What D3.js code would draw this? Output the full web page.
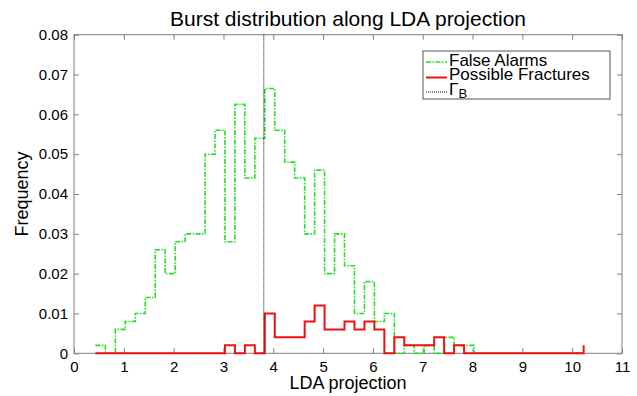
<!DOCTYPE html>
<html>
<head>
<meta charset="utf-8">
<script src="https://cdn.jsdelivr.net/npm/d3@7"></script>
<style>
  html, body { margin: 0; padding: 0; background: #fff; }
  svg { display: block; }
  text { font-family: "Liberation Sans", Arial, Helvetica, sans-serif; fill: #000; }
</style>
</head>
<body>
<svg id="chart" width="637" height="396"></svg>
<script>
// ---- data ----
const binEdges = [0.43, 0.63, 0.83, 1.03, 1.23, 1.43, 1.63, 1.83, 2.03, 2.23,
  2.43, 2.63, 2.83, 3.03, 3.23, 3.43, 3.63, 3.83, 4.03, 4.23,
  4.43, 4.63, 4.83, 5.03, 5.23, 5.43, 5.63, 5.83, 6.03, 6.23,
  6.43, 6.63, 6.83, 7.03, 7.23, 7.43, 7.63, 7.83, 8.03, 8.23,
  8.43, 8.63, 8.83, 9.03, 9.23, 9.43, 9.63, 9.83, 10.03, 10.23];
const falseAlarms = [0.002, 0, 0.006, 0.008, 0.010, 0.014, 0.026, 0.020, 0.028, 0.030,
  0.030, 0.050, 0.056, 0.028, 0.0625, 0.044, 0.054, 0.0665, 0.056, 0.048,
  0.044, 0.030, 0.046, 0.020, 0.030, 0.022, 0.010, 0.018, 0.008, 0.010,
  0, 0.002, 0, 0.002, 0, 0.004, 0.002, 0.002, 0, 0,
  0, 0, 0, 0, 0, 0, 0, 0, 0, 0];
const possibleFractures = [0, 0, 0, 0, 0, 0, 0, 0, 0, 0,
  0, 0, 0, 0.002, 0, 0.002, 0, 0.010, 0.004, 0.004,
  0.004, 0.008, 0.012, 0.006, 0.006, 0.008, 0.006, 0.008, 0.006, 0,
  0.004, 0.002, 0.002, 0.002, 0.004, 0, 0.002, 0, 0, 0,
  0, 0, 0, 0, 0, 0, 0, 0, 0, 0.002];
const thresholdB = 3.81;
const xTicks = [0, 1, 2, 3, 4, 5, 6, 7, 8, 9, 10, 11];
const yTicks = [0, 0.01, 0.02, 0.03, 0.04, 0.05, 0.06, 0.07, 0.08];
const yTickLabels = ["0", "0.01", "0.02", "0.03", "0.04", "0.05", "0.06", "0.07", "0.08"];
const legendLabels = ["False Alarms", "Possible Fractures"];

// ---- layout ----
const L = 74, R = 622, T = 34.7, B = 353.3;
const svg = d3.select("#chart");
const x = d3.scaleLinear().domain([0, 11]).range([L, R]);
const y = d3.scaleLinear().domain([0, 0.08]).range([B, T]);
const axisColor = "#7f7f7f";
const green = "#22e022";
const red = "#f01010";

// axes
const gx = svg.append("g").attr("transform", `translate(0,${B})`)
  .call(d3.axisBottom(x).tickValues(xTicks).tickSize(-5).tickPadding(8).tickFormat(d3.format("d")));
const gy = svg.append("g").attr("transform", `translate(${L},0)`)
  .call(d3.axisLeft(y).tickValues(yTicks).tickSize(-5).tickPadding(6).tickFormat((d, i) => yTickLabels[i]));
const gxt = svg.append("g").attr("transform", `translate(0,${T})`)
  .call(d3.axisTop(x).tickValues(xTicks).tickSize(-5).tickFormat(""));
const gyr = svg.append("g").attr("transform", `translate(${R},0)`)
  .call(d3.axisRight(y).tickValues(yTicks).tickSize(-5).tickFormat(""));
[gx, gy, gxt, gyr].forEach(g => {
  g.select(".domain").remove();
  g.selectAll(".tick line").attr("stroke", axisColor);
  g.selectAll(".tick text").attr("font-size", 15).attr("fill", "#000")
    .attr("font-family", '"Liberation Sans", Arial, sans-serif');
});
svg.append("rect").attr("x", L).attr("y", T).attr("width", R - L).attr("height", B - T)
  .attr("fill", "none").attr("stroke", axisColor).attr("stroke-width", 1);

// stairs
const stair = d3.line().curve(d3.curveStepAfter).x(d => x(d[0])).y(d => y(d[1]));
svg.append("path").datum(binEdges.map((e, i) => [e, falseAlarms[i]]))
  .attr("d", stair).attr("fill", "none").attr("stroke", green).attr("stroke-width", 1.6)
  .attr("stroke-dasharray", "5,1.5,1.5,1.5");
svg.append("path").datum(binEdges.map((e, i) => [e, possibleFractures[i]]))
  .attr("d", stair).attr("fill", "none").attr("stroke", red).attr("stroke-width", 2);

// threshold
svg.append("line").attr("x1", x(thresholdB)).attr("x2", x(thresholdB))
  .attr("y1", y(0.08)).attr("y2", y(0))
  .attr("stroke", "#000").attr("stroke-width", 1).attr("stroke-dasharray", "1,1");

// title and labels
svg.append("text").attr("x", (L + R) / 2).attr("y", 26).attr("text-anchor", "middle")
  .attr("font-size", 21).text("Burst distribution along LDA projection");
svg.append("text").attr("x", (L + R) / 2).attr("y", 389).attr("text-anchor", "middle")
  .attr("font-size", 18).text("LDA projection");
svg.append("text").attr("transform", `translate(28,${(T + B) / 2}) rotate(-90)`)
  .attr("text-anchor", "middle").attr("font-size", 18).text("Frequency");

// legend
const lg = svg.append("g");
lg.append("rect").attr("x", 423).attr("y", 51).attr("width", 187).attr("height", 48)
  .attr("fill", "#fff").attr("stroke", "#555").attr("stroke-width", 1);
lg.append("line").attr("x1", 426).attr("x2", 447).attr("y1", 62).attr("y2", 62)
  .attr("stroke", green).attr("stroke-width", 1.6).attr("stroke-dasharray", "5,1.5,1.5,1.5");
lg.append("line").attr("x1", 426).attr("x2", 447).attr("y1", 77.5).attr("y2", 77.5)
  .attr("stroke", red).attr("stroke-width", 2);
lg.append("line").attr("x1", 426).attr("x2", 447).attr("y1", 92).attr("y2", 92)
  .attr("stroke", "#000").attr("stroke-width", 1).attr("stroke-dasharray", "1,1");
lg.append("text").attr("x", 449).attr("y", 66).attr("font-size", 17).text(legendLabels[0]);
lg.append("text").attr("x", 449).attr("y", 80).attr("font-size", 17).text(legendLabels[1]);
const gt = lg.append("text").attr("x", 449).attr("y", 95).attr("font-size", 17);
gt.append("tspan").text("Γ");
gt.append("tspan").attr("font-size", 13).attr("dy", 3).text("B");
</script>
</body>
</html>
